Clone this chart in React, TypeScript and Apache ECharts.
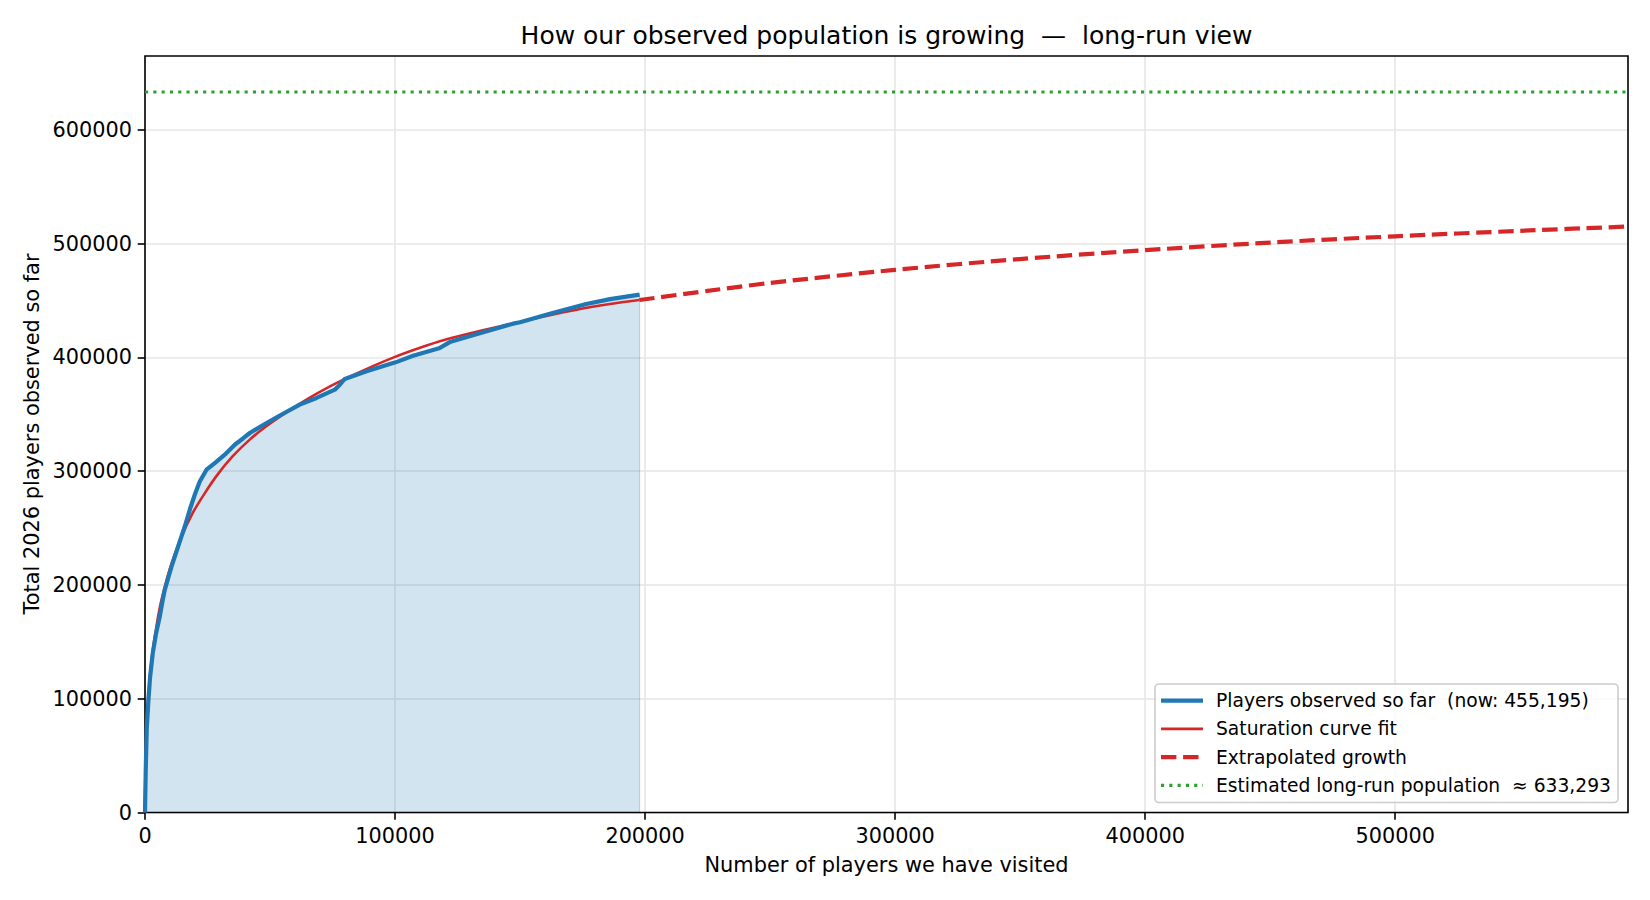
import React, { useEffect, useRef } from "react";
import * as echarts from "echarts";

// Observed cumulative count of distinct players vs players visited
const observedX = [
  0, 300, 700, 1400, 2050, 3100, 4450, 5900, 7100, 7900, 10600, 13250, 15900,
  17900, 19900, 21900, 24600, 27900, 31900, 35900, 39300, 41900, 48600, 55200,
  61900, 68600, 75900, 77900, 79900, 88600, 100200, 107200, 117900, 121900,
  133900, 147200, 150000, 163000, 176500, 186000, 197800,
];
const observedY = [
  0, 38000, 74000, 99800, 119400, 140000, 157600, 172200, 186900, 195700,
  216200, 233800, 251400, 266100, 279300, 291000, 301300, 307200, 314500,
  323300, 329000, 333600, 342400, 350500, 358500, 364400, 371700, 376100,
  381100, 387800, 395700, 401500, 408400, 413500, 421300, 429700, 431000,
  439000, 447000, 451300, 455195,
];

// Saturation curve fit over the observed range
const fitX = [
  0, 200, 500, 1000, 2000, 3000, 4500, 6000, 8000, 10500, 14500, 19000, 24000,
  29000, 35000, 42000, 48500, 55000, 62000, 68500, 76500, 88500, 100000, 110000,
  120000, 133000, 147000, 160000, 174000, 186000, 197700,
];
const fitY = [
  0, 42000, 68000, 92000, 120000, 141000, 162500, 181000, 199000, 218000,
  242000, 263000, 281000, 297000, 313000, 328000, 339500, 349500, 359500,
  368000, 377500, 389800, 400500, 408500, 415500, 422800, 429800, 436300,
  442600, 447000, 450500,
];

// Extrapolated continuation of the fit
const extrapX = [
  197700, 225000, 250000, 300000, 350000, 400000, 450000, 500000, 550000,
  593100,
];
const extrapY = [
  450500, 458500, 465500, 477000, 486500, 494300, 501000, 506500, 511300,
  515100,
];

const LONG_RUN = 633293;
const X_MAX = 593100;
const Y_MAX = 665000;
const xTicks = [0, 100000, 200000, 300000, 400000, 500000];
const yTicks = [0, 100000, 200000, 300000, 400000, 500000, 600000];

const BLUE = "#1f77b4";
const RED = "#d62728";
const GREEN = "#2ca02c";
const FONT = "DejaVu Sans";

const pairs = (xs: number[], ys: number[]) => xs.map((x, i) => [x, ys[i]]);
const fmt = (v: number) => v.toLocaleString("en-US");

export default function App() {
  const ref = useRef<HTMLDivElement>(null);

  useEffect(() => {
    if (!ref.current) return;
    const chart = echarts.init(ref.current, null, { renderer: "svg" });

    const grid = { left: 145, top: 56, width: 1483, height: 756.5 };
    const nowValue = observedY[observedY.length - 1];
    const lastX = observedX[observedX.length - 1];

    const DOTS = [3.1, 5.2];
    const DASHES = [15.4, 6.7];

    const legendRows = [
      { label: `Players observed so far  (now: ${fmt(nowValue)})`, color: BLUE, width: 4.2, dash: null as number[] | null },
      { label: "Saturation curve fit", color: RED, width: 2.6, dash: null },
      { label: "Extrapolated growth", color: RED, width: 4.2, dash: DASHES },
      { label: `Estimated long-run population  \u2248 ${fmt(LONG_RUN)}`, color: GREEN, width: 3.1, dash: DOTS },
    ];
    const legX = 1155;
    const legY = 684;
    const rowY0 = 700.6;
    const rowStep = 28.25;

    const legendElements: any[] = [
      {
        type: "rect",
        shape: { x: legX, y: legY, width: 463, height: 118.5, r: 4 },
        style: { fill: "rgba(255,255,255,0.8)", stroke: "#cccccc", lineWidth: 1.6 },
        z: 100,
      },
    ];
    legendRows.forEach((row, i) => {
      const y = rowY0 + i * rowStep;
      legendElements.push({
        type: "line",
        shape: { x1: 1161, y1: y, x2: 1203, y2: y },
        style: { stroke: row.color, lineWidth: row.width, lineDash: row.dash || undefined, lineCap: "butt" },
        z: 101,
      });
      legendElements.push({
        type: "text",
        x: 1216,
        y,
        style: {
          text: row.label,
          fill: "#000",
          fontFamily: FONT,
          fontSize: 18.7,
          align: "left",
          verticalAlign: "middle",
        },
        z: 101,
      });
    });

    const textEl = (text: string, x: number, y: number, size: number, rotation = 0) => ({
      type: "text",
      x,
      y,
      rotation,
      style: {
        text,
        fill: "#000",
        fontFamily: FONT,
        fontSize: size,
        align: "center",
        verticalAlign: "middle",
      },
    });

    const tickStyle = { show: true, length: 7.3, lineStyle: { color: "#000", width: 1.6 } };
    const labelStyle = { color: "#000", fontSize: 20.8, fontFamily: FONT, formatter: (v: number) => String(v) };
    const gridLine = { show: true, lineStyle: { color: "#e6e6e6", width: 1.6 } };

    chart.setOption({
      animation: false,
      backgroundColor: "#fff",
      grid: {
        ...grid,
        show: true,
        borderColor: "#000",
        borderWidth: 1.6,
        backgroundColor: "transparent",
        z: 3,
      },
      xAxis: {
        type: "value",
        min: 0,
        max: X_MAX,
        interval: 100000,
        axisLine: { show: false },
        axisTick: { ...tickStyle, customValues: xTicks },
        axisLabel: { ...labelStyle, customValues: xTicks, margin: 13 },
        splitLine: gridLine,
      },
      yAxis: {
        type: "value",
        min: 0,
        max: Y_MAX,
        interval: 100000,
        axisLine: { show: false },
        axisTick: { ...tickStyle, customValues: yTicks },
        axisLabel: { ...labelStyle, customValues: yTicks, margin: 13 },
        splitLine: gridLine,
      },
      series: [
        {
          // shaded area under the observed curve
          type: "line",
          data: [...pairs(observedX, observedY), [lastX, 0]],
          showSymbol: false,
          silent: true,
          lineStyle: { color: "rgba(31,119,180,0.25)", width: 1.2 },
          areaStyle: { color: "rgba(31,119,180,0.2)", opacity: 1, origin: "start" },
          z: 2,
        },
        {
          name: "Saturation curve fit",
          type: "line",
          data: pairs(fitX, fitY),
          showSymbol: false,
          smooth: 0.3,
          lineStyle: { color: RED, width: 2.6 },
          z: 4,
        },
        {
          name: "Extrapolated growth",
          type: "line",
          data: pairs(extrapX, extrapY),
          showSymbol: false,
          smooth: 0.3,
          lineStyle: { color: RED, width: 4.2, type: DASHES, cap: "butt" },
          z: 4,
        },
        {
          name: "Estimated long-run population",
          type: "line",
          data: [
            [0, LONG_RUN],
            [X_MAX, LONG_RUN],
          ],
          showSymbol: false,
          lineStyle: { color: GREEN, width: 3.1, type: DOTS, cap: "butt" },
          z: 4,
        },
        {
          name: "Players observed so far",
          type: "line",
          data: pairs(observedX, observedY),
          showSymbol: false,
          lineStyle: { color: BLUE, width: 4.2, cap: "butt", join: "round" },
          z: 5,
        },
      ],
      graphic: [
        textEl("How our observed population is growing  \u2014  long-run view", 886.5, 35, 25),
        textEl("Number of players we have visited", 886.5, 865, 20.9),
        textEl("Total 2026 players observed so far", 31.5, 434, 20.9, Math.PI / 2),
        ...legendElements,
      ],
    });

    return () => chart.dispose();
  }, []);

  return (
    <div
      ref={ref}
      style={{ position: "fixed", left: 0, top: 0, width: 1650, height: 900, background: "#fff" }}
    />
  );
}
